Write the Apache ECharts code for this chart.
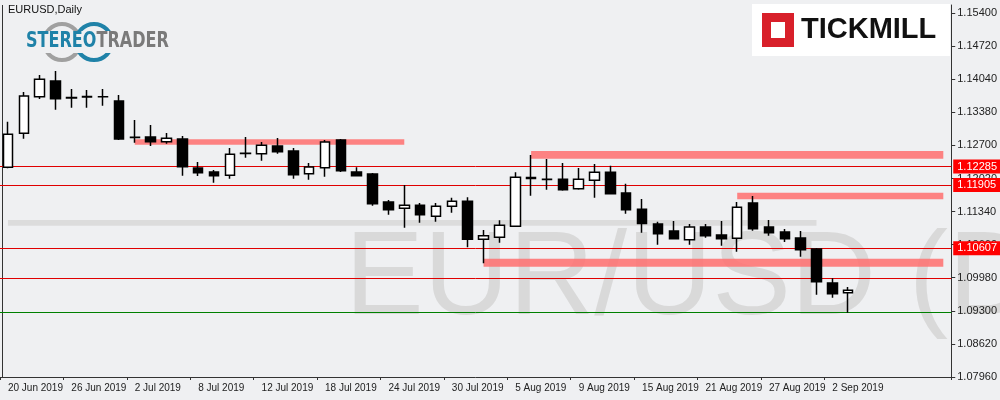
<!DOCTYPE html>
<html><head><meta charset="utf-8">
<script src="https://cdn.jsdelivr.net/npm/echarts@6/dist/echarts.min.js"></script>
<style>html,body{margin:0;padding:0;background:#eff0f2}#c{width:1000px;height:400px}</style>
</head><body><div id="c"></div>
<script>
const dates = ['20 Jun 2019','21 Jun','24 Jun','25 Jun','26 Jun 2019','27 Jun','28 Jun','1 Jul','2 Jul 2019','3 Jul','4 Jul','5 Jul','8 Jul 2019','9 Jul','10 Jul','11 Jul','12 Jul 2019','15 Jul','16 Jul','17 Jul','18 Jul 2019','19 Jul','22 Jul','23 Jul','24 Jul 2019','25 Jul','26 Jul','29 Jul','30 Jul 2019','31 Jul','1 Aug','2 Aug','5 Aug 2019','6 Aug','7 Aug','8 Aug','9 Aug 2019','12 Aug','13 Aug','14 Aug','15 Aug 2019','16 Aug','19 Aug','20 Aug','21 Aug 2019','22 Aug','23 Aug','26 Aug','27 Aug 2019','28 Aug','29 Aug','30 Aug','2 Sep 2019','3 Sep','','','','','',''];
const opens  = [1.12270,1.12969,1.13721,1.14044,1.13705,1.13725,1.13718,1.13632,1.12890,1.12893,1.12796,1.12851,1.12255,1.12173,1.12105,1.12555,1.12549,1.12708,1.12605,1.12138,1.12262,1.12831,1.12173,1.12132,1.11557,1.11427,1.11489,1.11263,1.11468,1.11571,1.10790,1.10831,1.11057,1.12060,1.12020,1.12023,1.11830,1.12003,1.12167,1.11742,1.11407,1.11104,1.10961,1.10782,1.11043,1.10878,1.10811,1.11536,1.11043,1.10940,1.10817,1.10591,1.09892,1.09692];
const closes = [1.12948,1.13735,1.14078,1.13680,1.13695,1.13715,1.13722,1.12851,1.12882,1.12796,1.12866,1.12282,1.12159,1.12097,1.12537,1.12561,1.12722,1.12590,1.12118,1.12276,1.12790,1.12200,1.12097,1.11522,1.11398,1.11489,1.11296,1.11468,1.11571,1.10790,1.10864,1.11078,1.12064,1.12040,1.12026,1.11809,1.12023,1.12167,1.11727,1.11398,1.11115,1.10905,1.10802,1.11043,1.10864,1.10802,1.11448,1.11008,1.10926,1.10802,1.10576,1.09919,1.09672,1.09742];
const lows   = [1.12250,1.12858,1.13674,1.13454,1.13495,1.13495,1.13536,1.12831,1.12775,1.12708,1.12755,1.12097,1.12091,1.11953,1.12036,1.12467,1.12405,1.12549,1.12036,1.12015,1.12077,1.12173,1.12090,1.11481,1.11296,1.11028,1.11131,1.11152,1.11337,1.10626,1.10297,1.10720,1.11050,1.11686,1.11809,1.11789,1.11809,1.11645,1.11721,1.11316,1.10926,1.10679,1.10790,1.10679,1.10823,1.10658,1.10535,1.10967,1.10864,1.10735,1.10432,1.09651,1.09590,1.09281];
const highs  = [1.13207,1.13817,1.14167,1.14249,1.13879,1.13859,1.13879,1.13756,1.13242,1.13139,1.12975,1.12913,1.12379,1.12214,1.12666,1.12893,1.12790,1.12872,1.12666,1.12358,1.12831,1.12851,1.12270,1.12153,1.11598,1.11906,1.11536,1.11536,1.11645,1.11653,1.10981,1.11181,1.12167,1.12523,1.12440,1.12358,1.12255,1.12338,1.12303,1.11933,1.11618,1.11152,1.11166,1.11104,1.11104,1.11166,1.11557,1.11680,1.11187,1.11002,1.10961,1.10611,1.09988,1.09810];
const tickLabels = ['1.07960','1.08620','1.09300','1.09980','1.10660','1.11340','1.12020','1.12700','1.13380','1.14040','1.14720','1.15400'];
const levelsRed = [1.12285,1.11905,1.10607];
const levelPlain = 1.09980;
const levelGreen = 1.09300;
const zones = [[8,25,1.12845,1.12734],[33,59,1.12605,1.12447],[46,59,1.11748,1.11612],[30,59,1.10391,1.10227]];
const grayZone = [0,51,1.11187,1.11070];

const data = opens.map((o,i)=>[o,closes[i],lows[i],highs[i]]);
const chart = echarts.init(document.getElementById('c'));
const font = 'Liberation Sans';
const ml = [];
levelsRed.forEach(v=>ml.push({yAxis:v,lineStyle:{color:'#e00000',width:1,type:'solid'},
  label:{show:true,position:'end',distance:2,formatter:v.toFixed(5),color:'#fff',backgroundColor:'#ff0000',padding:[2,4,1,4],fontSize:11,fontFamily:font}}));
ml.push({yAxis:levelPlain,lineStyle:{color:'#e00000',width:1,type:'solid'},label:{show:false}});
ml.push({yAxis:levelGreen,lineStyle:{color:'#008000',width:1,type:'solid'},label:{show:false}});
const ma = zones.map(z=>[{xAxis:z[0],yAxis:z[2],itemStyle:{color:'rgba(255,110,110,0.85)'}},{xAxis:z[1],yAxis:z[3]}]);
const gma = [[{xAxis:grayZone[0],yAxis:grayZone[2],itemStyle:{color:'#dcdcdc'}},{xAxis:grayZone[1],yAxis:grayZone[3]}]];
const labelIdx = [0,4,8,12,16,20,24,28,32,36,40,44,48,52];
chart.setOption({
  animation:false,
  backgroundColor:'#eff0f2',
  grid:{left:-5,right:45,top:5,bottom:23},
  xAxis:{type:'category',data:dates,boundaryGap:true,
    axisLine:{lineStyle:{color:'#333'}},axisTick:{show:true,interval:(i)=>labelIdx.includes(i),lineStyle:{color:'#333'},length:3},
    axisLabel:{interval:(i)=>labelIdx.includes(i),hideOverlap:false,align:'left',margin:6,fontSize:10,fontFamily:font,color:'#222'}},
  yAxis:{type:'value',position:'right',min:1.0796,max:1.15606,interval:0.0068,
    splitLine:{show:false},axisLine:{show:true,lineStyle:{color:'#333'}},axisTick:{show:true,length:4,lineStyle:{color:'#333'}},
    axisLabel:{fontSize:11,fontFamily:font,color:'#222',margin:6,showMaxLabel:false,
      formatter:(v)=>{const i=Math.round((v-1.0796)/0.0068);return tickLabels[i]||'';}}},
  graphic:[
    {type:'text',left:345,top:222,z:-10,silent:true,style:{text:'EUR/USD (D',fontSize:118,fontFamily:'Liberation Sans',fill:'#d9d9d9'}},
    {type:'text',left:8,top:4,style:{text:'EURUSD,Daily',fontSize:11,fontFamily:font,fill:'#111'}},
    {type:'circle',shape:{cx:62,cy:42,r:18},style:{fill:'none',stroke:'#a0a0a0',lineWidth:4}},
    {type:'circle',shape:{cx:94,cy:42,r:18},style:{fill:'none',stroke:'#1f82a8',lineWidth:4}},
    {type:'rect',left:24,top:31,shape:{width:116,height:22},style:{fill:'#eff0f2'}},
    {type:'text',left:26,top:31,style:{rich:{a:{fontSize:21,fontWeight:'bold',fontFamily:'DejaVu Sans Condensed',fill:'#1f82a8'},b:{fontSize:21,fontWeight:'bold',fontFamily:'DejaVu Sans Condensed',fill:'#7a7a7a'}},text:'{a|STEREO}{b|TRADER}',width:112,overflow:'none'},scaleX:0.85},
    {type:'rect',left:752,top:4,shape:{width:198,height:52},style:{fill:'#fff'}},
    {type:'rect',left:762,top:13,shape:{width:32,height:34},style:{fill:'#d8202a'}},
    {type:'rect',left:771,top:22,shape:{width:14,height:16},style:{fill:'#fff'}},
    {type:'text',left:801,top:15,style:{text:'TICKMILL',fontSize:29,fontWeight:'bold',fontFamily:'Liberation Sans',fill:'#111'}},
    {type:'line',shape:{x1:2.5,y1:5,x2:2.5,y2:377},style:{stroke:'#333',lineWidth:1}}
  ],
  series:[
    {type:'line',data:[],markArea:{silent:true,data:gma},z:0},
    {type:'line',data:[],markLine:{silent:true,symbol:'none',precision:5,data:ml},markArea:{silent:true,data:ma},z:1},
    {type:'candlestick',data:data,barWidth:10,z:5,
    itemStyle:{color:'#ffffff',color0:'#000000',borderColor:'#000000',borderColor0:'#000000',borderWidth:1.5}}
  ]
});
</script></body></html>
